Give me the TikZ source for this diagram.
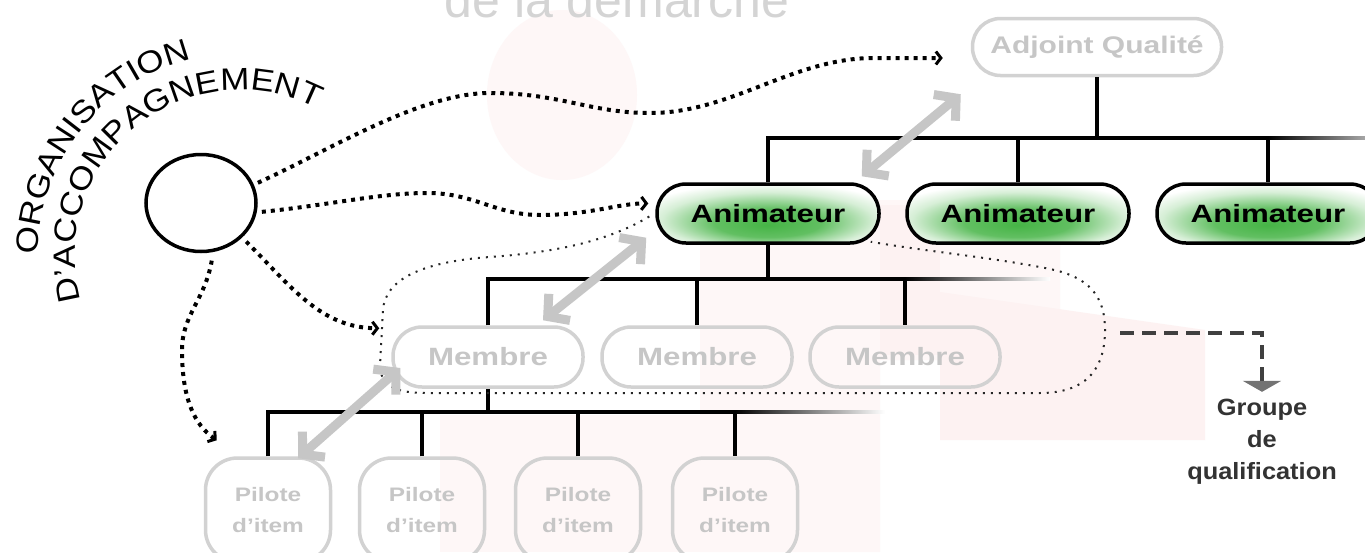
\documentclass[tikz,border=0pt]{standalone}
\usepackage{fontspec}
\setmainfont{Liberation Sans}
\usetikzlibrary{arrows.meta,shapes.geometric}
\definecolor{lgray}{RGB}{198,198,198}
\definecolor{lstroke}{RGB}{210,210,210}
\definecolor{agreen}{RGB}{70,180,70}
\definecolor{pinkbg}{RGB}{254,247,247}
\definecolor{pinkbg2}{RGB}{253,242,242}
\definecolor{arrgray}{RGB}{198,198,198}
\definecolor{titlegray}{RGB}{212,212,212}
\pgfdeclareradialshading{animrad}{\pgfpoint{0bp}{-10bp}}{color(0bp)=(agreen); color(12bp)=(agreen!85); color(24bp)=(agreen!22); color(31bp)=(white); color(60bp)=(white)}
\newcommand\stx[1]{\scalebox{1.25}[1]{#1}}
\newcommand\stq[1]{\scalebox{1.08}[1]{#1}}
\newcommand\stc[1]{\scalebox{1.13}[1]{#1}}
\begin{document}
\begin{tikzpicture}[x=1pt,y=-1pt,
  tree/.style={line width=3.5pt, draw=black},
  animbox/.style={draw=black, line width=3.5pt, rounded corners=29pt, minimum width=222pt, minimum height=59pt, shading=animrad, font=\bfseries\fontsize{25}{25}\selectfont},
  membox/.style={draw=lstroke, line width=3.5pt, rounded corners=29pt, minimum width=190pt, minimum height=60pt, text=lgray, font=\bfseries\fontsize{25}{25}\selectfont},
  adjbox/.style={draw=lstroke, line width=3.5pt, rounded corners=28pt, minimum width=249pt, minimum height=57pt, text=lgray, font=\bfseries\fontsize{24}{24}\selectfont},
  pilbox/.style={draw=lstroke, line width=3.5pt, rounded corners=32pt, minimum width=125pt, minimum height=104pt, text=lgray, align=center, font=\bfseries\fontsize{19.5}{31}\selectfont},
  curveletter/.style={anchor=base, inner sep=0pt, font=\fontsize{31}{31}\selectfont},
  dotarrow/.style={line width=4pt, dash pattern=on 4pt off 5pt, arrows={-Straight Barb[length=5pt,width=13pt,line width=3pt]}},
  grayarrow/.style={draw=arrgray, line width=9pt, arrows={Straight Barb[length=15pt,width=34pt]-Straight Barb[length=15pt,width=34pt]}},
  thindots/.style={line width=2pt, dash pattern=on 2pt off 6pt, draw=black!85},
  gqarrow/.style={line width=3.5pt, draw=black!75, dash pattern=on 14pt off 8pt, arrows={-Triangle[width=38pt,length=11pt,color=black!55]}}
]
\useasboundingbox (0,0) rectangle (1365,552);
\clip (0,0) rectangle (1365,552);
\fill[white] (0,0) rectangle (1365,552);
% faint background figure
\fill[pinkbg] (562,95) ellipse [x radius=75, y radius=85];
\fill[pinkbg] (700,200) -- (1060,200) -- (1060,360) -- (880,360) -- (880,552) -- (700,552) -- cycle;
\fill[pinkbg2] (880,205) rectangle (940,355);
\fill[pinkbg2] (940,292) -- (1205,330) -- (1205,440) -- (940,440) -- cycle;
\fill[pinkbg] (440,415) rectangle (700,552);
% title (cut)
\node[anchor=base, text=titlegray, font=\fontsize{50}{50}\selectfont, inner sep=0pt] (title) at (617,17) {de la démarche};
% curved text: letters along arcs centred at (240,255)
\coordinate (arcc) at (240,255);
\foreach \l/\c [count=\i] in {O/0.389, R/1.139, G/1.889, A/2.6115, N/3.306, I/3.806, S/4.2785, A/4.9455, T/5.5845, I/6.029, O/6.557, N/7.307} {
  \pgfmathsetmacro\ang{180+\c*9.93}
  \node[curveletter, rotate={-\ang-90}] (orga\i) at ([shift={(arcc)}]\ang:202) {\stc{\l}};
}
\foreach \l/\c [count=\i] in {D/0.361, '/0.833, A/1.2775, C/1.972, C/2.694, O/3.444, M/4.2495, P/4.9995, A/5.6665, G/6.389, N/7.139, E/7.8335, M/8.5835, E/9.3335, N/10.028, T/10.6945} {
  \pgfmathsetmacro\ang{164+\c*12.154}
  \node[curveletter, rotate={-\ang-90}] (acco\i) at ([shift={(arcc)}]\ang:165) {\stc{\l}};
}
% nodes
\node[draw, ellipse, line width=3.5pt, minimum width=110pt, minimum height=97pt, inner sep=0pt] (org) at (201,203) {};
\node[adjbox] (adj) at (1097,47) {\stx{Adjoint Qualité}};
\node[animbox] (a1) at (768,213.5) {\stx{Animateur}};
\node[animbox] (a2) at (1018,213.5) {\stx{Animateur}};
\node[animbox] (a3) at (1268,213.5) {\stx{Animateur}};
\node[membox] (m1) at (488,357) {\stx{Membre}};
\node[membox] (m2) at (697,357) {\stx{Membre}};
\node[membox] (m3) at (905,357) {\stx{Membre}};
\node[pilbox] (p1) at (268,510) {\stx{Pilote}\\\stx{d'item}};
\node[pilbox] (p2) at (422,510) {\stx{Pilote}\\\stx{d'item}};
\node[pilbox] (p3) at (578,510) {\stx{Pilote}\\\stx{d'item}};
\node[pilbox] (p4) at (735,510) {\stx{Pilote}\\\stx{d'item}};
\node[align=center, text=black!80, font=\bfseries\fontsize{23.5}{32}\selectfont] (gq) at (1262,442) {\stq{Groupe}\\\stq{de}\\\stq{qualification}};
% tree
\coordinate (barA) at (0,138);
\coordinate (barM) at (0,279);
\coordinate (barP) at (0,412);
\draw[tree] (adj.south) -- (adj.south |- barA);
\draw[tree] (a1.north) -- (a1.north |- barA) -- (a3.north |- barA) -- (a3.north);
\draw[tree] (a2.north) -- (a2.north |- barA);
\shade[left color=black, right color=black!35] (1268,136.25) rectangle (1365,139.75);
\draw[tree] (a1.south) -- (a1.south |- barM);
\draw[tree] (m1.north) -- (m1.north |- barM) -- (m3.north |- barM) -- (m3.north);
\draw[tree] (m2.north) -- (m2.north |- barM);
\shade[left color=black, right color=white] (905,277.25) rectangle (1050,280.75);
\draw[tree] (m1.south) -- (m1.south |- barP);
\draw[tree] (p1.north) -- (p1.north |- barP) -- (p4.north |- barP) -- (p4.north);
\draw[tree] (p2.north) -- (p2.north |- barP);
\draw[tree] (p3.north) -- (p3.north |- barP);
\shade[left color=black, right color=white] (735,410.25) rectangle (885,413.75);
% thin dotted group loop
\draw[thindots] ([shift={(-6,3)}]a1.west) .. controls (610,240) and (560,252) .. (490,257) .. controls (420,262) and (385,280) .. (383,310) -- (380,365) .. controls (380,385) and (395,393) .. (425,393) -- (1040,393) .. controls (1090,393) and (1105,365) .. (1105,330) .. controls (1105,295) and (1088,277) .. (1050,269) .. controls (990,257) and (930,252) .. ([shift={(-10,-3)}]a1.south east);
% dotted arrows from the circle
\draw[dotarrow] ([shift={(4,-2)}]org.19) .. controls (330,150) and (420,93) .. (490,93) .. controls (560,93) and (590,113) .. (650,113) .. controls (730,113) and (790,60) .. (870,58) -- ([shift={(-28,11)}]adj.west);
\draw[dotarrow] ([shift={(5,0)}]org.-9) .. controls (330,205) and (380,193) .. (427,193) .. controls (475,193) and (495,215) .. (540,215) .. controls (590,215) and (620,203) .. ([shift={(-7,-10)}]a1.west);
\draw[dotarrow] ([shift={(4,4)}]org.-40) .. controls (290,285) and (320,328) .. ([shift={(-12,3)}]m1.north west);
\draw[dotarrow] ([shift={(2,8)}]org.-80) .. controls (205,300) and (182,315) .. (182,350) .. controls (182,400) and (195,425) .. ([shift={(13,-16)}]p1.north west);
% gray double arrows
\draw[grayarrow] ([shift={(-10,17)}]adj.south west) -- ([shift={(-19,-6)}]a1.north east);
\draw[grayarrow] ([shift={(-9,-7)}]a1.south west) -- ([shift={(55,-5)}]m1.north);
\draw[grayarrow] ([shift={(9,11)}]m1.west) -- ([shift={(30,2)}]p1.north);
% dashed arrow to the group label
\coordinate (gqs) at (1120,333);
\draw[gqarrow] (gqs) -| ([shift={(0,-4)}]gq.north);
\end{tikzpicture}
\end{document}
